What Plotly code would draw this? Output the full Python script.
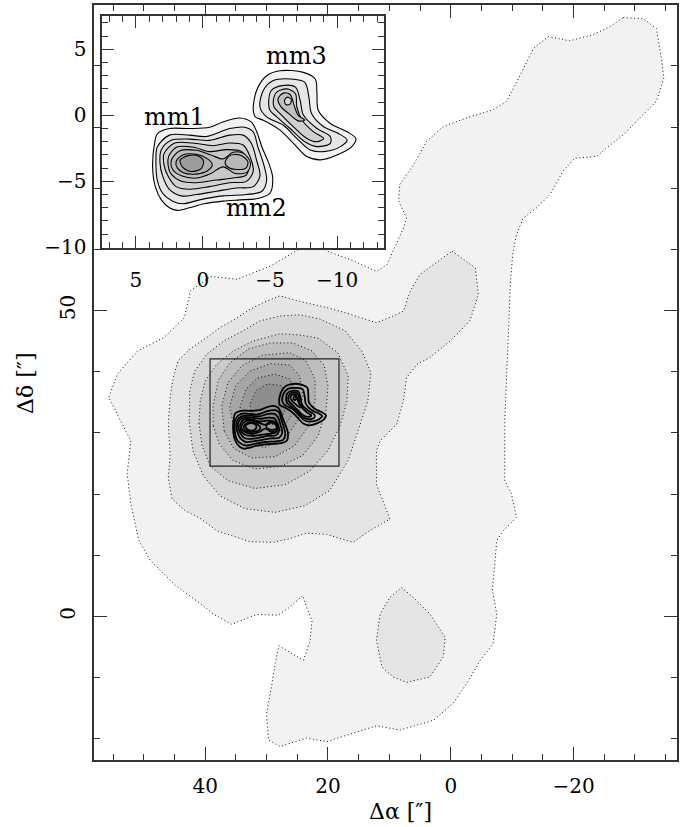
import plotly.graph_objects as go

# ---------------- DATA ----------------
# Main map (single-dish emission): contour outlines in (Δα, Δδ) arcsec, outermost level first
L1 = [(-28.1, 97.9), (-31.4, 97.7), (-33.5, 96.1), (-34.0, 93.4), (-34.4, 90.7), (-34.7, 88.0),
      (-33.5, 84.2), (-30.8, 81.5), (-28.1, 78.7), (-25.4, 76.6), (-23.8, 75.2), (-20.2, 74.9),
      (-18.3, 72.8), (-16.2, 69.0), (-14.0, 66.8), (-11.8, 65.1), (-10.7, 62.4), (-10.1, 59.2),
      (-9.7, 54.3), (-9.5, 48.8), (-9.2, 41.8), (-8.8, 32.0), (-8.8, 22.2), (-9.9, 20.0),
      (-10.7, 16.2), (-8.6, 14.0), (-7.5, 12.4), (-7.2, 8.6), (-6.8, 4.2), (-7.5, 0.4),
      (-6.9, -4.5), (-4.8, -7.2), (-2.6, -11.0), (-0.4, -14.2), (2.8, -17.0), (8.3, -18.6),
      (12.1, -17.9), (15.9, -19.1), (20.2, -20.5), (23.5, -19.9), (27.8, -21.3), (29.7, -20.2),
      (30.0, -15.9), (29.2, -11.5), (28.6, -7.7), (28.0, -4.8), (24.0, -7.2), (22.9, -3.9),
      (22.6, -0.7), (23.5, 1.5), (24.1, 3.4), (26.2, 1.5), (28.1, 0.2), (31.6, 0.3),
      (35.7, -1.3), (38.7, 0.4), (40.8, 2.1), (44.9, 5.1), (48.9, 9.1), (50.8, 12.4),
      (52.1, 18.4), (52.7, 23.3), (52.1, 28.7), (53.8, 32.0), (55.7, 35.8), (54.3, 39.6),
      (51.0, 43.4), (46.7, 45.6), (43.4, 48.8), (42.4, 53.2), (39.1, 55.6), (34.8, 55.1),
      (29.3, 57.3), (23.9, 60.5), (22.1, 61.3), (20.1, 59.7), (15.8, 58.1), (12.1, 56.4),
      (10.4, 57.5), (7.7, 63.5), (7.2, 65.1), (8.5, 67.9), (8.3, 70.6), (6.1, 73.8),
      (3.9, 77.7), (1.2, 80.1), (-2.6, 81.5), (-6.9, 82.8), (-9.1, 84.2), (-11.3, 88.5),
      (-13.5, 92.9), (-15.9, 94.8), (-19.4, 94.1), (-23.2, 95.1), (-25.9, 96.4)]

L2_MAIN = [(-0.2, 59.7), (-4.0, 57.0), (-4.5, 52.6), (-3.1, 48.3), (0.1, 45.0), (3.4, 42.3),
           (5.5, 41.2), (7.2, 39.0), (7.7, 35.2), (8.8, 31.4), (11.5, 28.7), (12.1, 27.1),
           (12.1, 21.6), (10.7, 17.8), (9.9, 15.9), (13.2, 14.0), (15.9, 12.1), (18.0, 12.7),
           (20.2, 13.4), (23.5, 13.6), (26.2, 12.7), (28.9, 12.1), (32.7, 12.2), (35.4, 13.1),
           (38.1, 14.0), (40.8, 16.0), (43.3, 17.3), (45.4, 19.2), (46.0, 22.7), (45.7, 26.5),
           (46.0, 31.4), (45.7, 35.8), (45.2, 39.0), (44.4, 41.8), (42.5, 43.7), (40.0, 45.4),
           (37.6, 47.2), (35.1, 48.6), (32.7, 50.2), (30.5, 51.3), (27.8, 52.4), (24.6, 51.5),
           (20.2, 50.5), (16.4, 49.4), (12.1, 48.0), (9.4, 49.1), (7.7, 49.9), (6.6, 53.2),
           (5.0, 55.9), (2.8, 57.5)]

L2_SOUTH = [(8.0, 4.7), (6.1, 3.1), (3.4, 0.4), (0.9, -3.4), (1.2, -6.6), (3.4, -9.9),
            (7.2, -10.8), (9.4, -9.9), (11.2, -8.3), (12.1, -3.9), (11.5, 0.4), (9.9, 3.1)]

L3 = [(42.6, 32.0), (42.5, 36.9), (41.7, 40.1), (39.7, 42.9), (37.0, 45.0), (33.8, 46.7),
      (31.1, 48.3), (27.8, 49.1), (24.6, 49.3), (21.3, 48.6), (17.2, 46.7), (14.5, 43.4),
      (13.0, 39.8), (13.5, 35.2), (15.1, 30.3), (16.7, 25.5), (19.7, 20.6), (23.7, 18.1),
      (28.6, 17.0), (33.5, 17.6), (37.6, 19.7), (40.3, 23.0), (42.0, 27.1)]

L4 = [(41.0, 31.5), (40.8, 35.2), (40.0, 38.5), (38.1, 41.2), (35.4, 43.4), (32.2, 45.0),
      (27.8, 46.2), (24.6, 46.0), (21.6, 45.5), (18.4, 43.1), (16.7, 39.3), (16.9, 35.2),
      (18.0, 31.2), (20.0, 27.1), (22.9, 23.8), (27.0, 21.5), (31.9, 20.9), (36.3, 22.2),
      (39.2, 24.6), (40.5, 27.9)]

L5 = [(38.7, 31.2), (38.7, 34.4), (37.9, 38.5), (36.0, 41.4), (33.0, 43.7), (29.4, 44.7),
      (25.7, 44.7), (22.6, 43.4), (20.6, 41.0), (20.0, 37.7), (20.3, 33.6), (21.6, 29.5),
      (24.1, 26.3), (27.8, 24.5), (31.9, 24.1), (35.5, 25.5), (37.7, 28.2)]

L6 = [(36.9, 30.3), (37.3, 34.4), (36.3, 38.2), (34.0, 41.0), (30.7, 42.7), (26.2, 43.1),
      (23.6, 41.8), (22.1, 38.8), (22.1, 35.2), (23.1, 31.2), (25.4, 27.9), (28.6, 26.1),
      (32.4, 25.9), (35.3, 27.4)]

L7 = [(35.3, 30.7), (36.0, 34.4), (35.0, 37.7), (32.7, 40.1), (29.4, 41.3), (26.2, 41.1),
      (24.6, 39.3), (24.1, 36.1), (24.9, 32.0), (27.0, 29.0), (30.3, 27.6), (33.5, 28.2)]

L8 = [(34.2, 32.3), (34.3, 34.4), (33.3, 37.2), (31.4, 39.0), (28.6, 39.6), (26.2, 38.8),
      (25.2, 36.4), (25.9, 32.8), (27.8, 30.3), (30.7, 29.2), (33.0, 30.3)]

L9 = [(32.5, 33.1), (32.7, 34.7), (31.7, 36.9), (29.8, 38.0), (27.5, 37.7), (26.5, 35.7),
      (27.2, 33.1), (29.1, 31.3), (31.4, 31.6)]

MAIN_CONTOURS = [L1, L2_MAIN, L2_SOUTH, L3, L4, L5, L6, L7, L8, L9]

# Interferometer map (inset): contour outlines in offsets (arcsec) from the inset centre
MM12_C1 = [(3.6, -2.1), (3.4, -1.4), (2.5, -1.0), (1.0, -1.0), (-0.5, -0.9), (-1.5, -0.5),
           (-2.75, -0.2), (-3.6, -0.5), (-4.0, -1.2), (-4.4, -2.4), (-4.9, -3.6), (-5.2, -4.7),
           (-5.0, -5.9), (-4.1, -6.3), (-2.75, -6.4), (-1.5, -6.5), (-0.1, -6.7), (1.0, -7.0),
           (1.9, -7.2), (2.5, -7.0), (3.1, -6.4), (3.55, -5.4), (3.75, -3.9)]
MM12_C2 = [(3.5, -3.4), (3.4, -2.4), (2.5, -1.5), (1.0, -1.5), (-0.25, -1.6), (-2.0, -1.0),
           (-3.1, -0.9), (-3.75, -1.25), (-4.1, -2.4), (-4.5, -3.6), (-4.75, -4.9), (-4.4, -5.75),
           (-3.25, -6.0), (-1.5, -6.1), (0.25, -6.4), (1.5, -6.7), (2.25, -6.5), (3.0, -5.9),
           (3.4, -4.9)]
MM12_C3 = [(3.2, -3.6), (3.1, -2.6), (2.4, -1.9), (1.0, -1.8), (-0.5, -1.9), (-2.0, -1.5),
           (-3.0, -1.5), (-3.6, -2.1), (-4.0, -3.4), (-4.25, -4.6), (-3.75, -5.4), (-2.5, -5.5),
           (-1.0, -5.75), (0.5, -6.0), (1.6, -6.1), (2.5, -5.6), (3.0, -4.6)]
MM12_C4 = [(2.9, -3.75), (2.9, -2.9), (2.1, -2.1), (0.75, -2.1), (-0.75, -2.3), (-2.0, -2.1),
           (-3.0, -2.25), (-3.5, -3.1), (-3.75, -4.25), (-3.25, -5.0), (-2.0, -5.1), (-0.5, -5.4),
           (1.0, -5.6), (2.0, -5.4), (2.6, -4.6)]
MM12_C5 = [(2.6, -3.75), (2.55, -3.1), (1.95, -2.4), (0.75, -2.4), (-0.5, -2.75), (-1.75, -2.6),
           (-2.9, -2.75), (-3.4, -3.6), (-3.25, -4.5), (-2.25, -4.75), (-1.0, -4.9), (0.5, -5.1),
           (1.6, -5.0), (2.4, -4.4)]
MM12_C6 = [(2.35, -3.4), (1.75, -2.7), (0.5, -2.65), (-0.6, -3.0), (-1.5, -3.3), (-2.25, -2.8),
           (-3.05, -2.9), (-3.55, -3.6), (-3.3, -4.3), (-2.4, -4.4), (-1.5, -3.9), (-0.6, -4.4),
           (0.5, -4.75), (1.55, -4.6), (2.25, -4.1)]
MM1_C7 = [(2.0, -3.5), (1.5, -3.0), (0.5, -2.95), (-0.35, -3.3), (-0.7, -3.75), (-0.35, -4.2),
          (0.5, -4.45), (1.45, -4.35), (1.9, -4.0)]
MM2_C7 = [(-1.65, -3.6), (-2.0, -3.05), (-2.75, -3.0), (-3.35, -3.5), (-3.2, -4.0), (-2.5, -4.1),
          (-1.9, -3.95)]
MM1_C8 = [(1.7, -3.4), (1.1, -3.05), (0.3, -3.1), (-0.05, -3.5), (0.15, -4.05), (0.9, -4.25),
          (1.5, -3.95)]

MM3_D1 = [(-3.75, 0.38), (-4.0, 1.88), (-4.75, 3.0), (-5.75, 3.38), (-7.5, 3.25), (-8.375, 2.75),
          (-8.5, 1.63), (-8.6, 0.38), (-9.5, -0.62), (-10.75, -1.25), (-11.4, -1.75), (-11.1, -2.37),
          (-10.0, -3.0), (-8.75, -3.37), (-7.75, -3.12), (-6.75, -2.12), (-5.75, -1.12), (-4.5, -0.37),
          (-3.9, -0.12)]
MM3_D2 = [(-4.25, 0.63), (-4.5, 1.88), (-5.25, 2.63), (-6.5, 2.75), (-7.6, 2.5), (-7.9, 1.38),
          (-8.1, 0.13), (-9.0, -0.87), (-10.1, -1.37), (-10.75, -1.87), (-10.25, -2.37), (-9.0, -2.75),
          (-8.0, -2.62), (-7.0, -1.75), (-6.0, -0.75), (-4.75, -0.12)]
MM3_D3 = [(-4.9, 0.88), (-5.1, 1.88), (-5.9, 2.25), (-6.9, 2.13), (-7.25, 1.13), (-7.5, 0.0),
          (-8.5, -1.0), (-9.5, -1.62), (-9.5, -2.12), (-8.5, -2.37), (-7.6, -2.0), (-6.5, -1.0),
          (-5.5, -0.12), (-5.0, 0.38)]
MM3_D4 = [(-5.25, 1.13), (-5.5, 1.75), (-6.25, 2.0), (-6.9, 1.63), (-7.0, 0.63), (-7.4, -0.37),
          (-8.25, -1.25), (-9.0, -1.75), (-8.5, -2.0), (-7.75, -1.75), (-6.75, -0.87), (-5.75, 0.13),
          (-5.3, 0.63)]
MM3_D5 = [(-5.6, 1.25), (-6.0, 1.68), (-6.5, 1.58), (-6.8, 0.75), (-7.1, 0.0), (-7.6, -0.37),
          (-7.1, -0.42), (-6.4, 0.13), (-5.8, 0.68)]
MM3_D6 = [(-6.08, 1.13), (-6.3, 1.38), (-6.58, 1.2), (-6.5, 0.85), (-6.2, 0.8)]

MM_CONTOURS = [MM12_C1, MM12_C2, MM12_C3, MM12_C4, MM12_C5, MM12_C6, MM1_C7, MM2_C7, MM1_C8,
               MM3_D1, MM3_D2, MM3_D3, MM3_D4, MM3_D5, MM3_D6]

SOURCE_NAMES = ["mm1", "mm2", "mm3"]
SOURCE_LABEL_X = [2.1, -4.0, -7.0]
SOURCE_LABEL_Y = [-0.1, -7.0, 4.5]

INSET_CENTER = (31.7, 34.6)          # inset (0,0) in main-map offsets
INSET_X_RANGE = [7.5, -13.5]
INSET_Y_RANGE = [-10.05, 7.5]
MAIN_X_RANGE = [58.1, -36.85]
MAIN_Y_RANGE = [-23.49, 99.95]

# ---------------- STYLE ----------------
MAIN_FILLS = ["#f2f2f2", "#e5e5e5", "#e5e5e5", "#d8d8d8", "#cbcbcb", "#bebebe",
              "#b2b2b2", "#a6a6a6", "#9a9a9a", "#8e8e8e"]
MM_FILLS = ["#f2f2f2", "#e6e6e6", "#dcdcdc", "#d2d2d2", "#c8c8c8", "#bebebe", "#b0b0b0",
            "#b8b8b8", "#9c9c9c",
            "#f2f2f2", "#e6e6e6", "#dcdcdc", "#d0d0d0", "#c0c0c0", "#d8d8d8"]
FONT = "DejaVu Serif"


def closed(poly, dx=0.0, dy=0.0):
    xs = [p[0] + dx for p in poly] + [poly[0][0] + dx]
    ys = [p[1] + dy for p in poly] + [poly[0][1] + dy]
    return xs, ys


fig = go.Figure()

# main single-dish map: filled, dotted contours
for poly, col in zip(MAIN_CONTOURS, MAIN_FILLS):
    xs, ys = closed(poly)
    fig.add_trace(go.Scatter(x=xs, y=ys, mode="lines", fill="toself", fillcolor=col,
                             line=dict(color="#111111", width=1, dash="1px,2.6px"),
                             xaxis="x", yaxis="y", hoverinfo="skip", showlegend=False))

# interferometer contours overplotted on the main map
for poly in MM_CONTOURS:
    xs, ys = closed(poly, INSET_CENTER[0], INSET_CENTER[1])
    fig.add_trace(go.Scatter(x=xs, y=ys, mode="lines",
                             line=dict(color="black", width=1.8, shape="spline", smoothing=0.9),
                             xaxis="x", yaxis="y", hoverinfo="skip", showlegend=False))

# inset: filled solid contours
for poly, col in zip(MM_CONTOURS, MM_FILLS):
    xs, ys = closed(poly)
    fig.add_trace(go.Scatter(x=xs, y=ys, mode="lines", fill="toself", fillcolor=col,
                             line=dict(color="black", width=1.1, shape="spline", smoothing=0.9),
                             xaxis="x2", yaxis="y2", hoverinfo="skip", showlegend=False))

# box showing inset footprint
fig.add_shape(type="rect", xref="x", yref="y",
              x0=INSET_CENTER[0] + INSET_X_RANGE[0], x1=INSET_CENTER[0] + INSET_X_RANGE[1],
              y0=INSET_CENTER[1] + INSET_Y_RANGE[0], y1=INSET_CENTER[1] + INSET_Y_RANGE[1],
              line=dict(color="#222222", width=1.2), layer="above")

for name, lx, ly in zip(SOURCE_NAMES, SOURCE_LABEL_X, SOURCE_LABEL_Y):
    fig.add_annotation(x=lx, y=ly, xref="x2", yref="y2", text=name, showarrow=False,
                       font=dict(family=FONT, size=24, color="black"))

W, H = 696, 827
ML, MR, MT, MB = 94, 19, 3, 67
pw, ph = W - ML - MR, H - MT - MB

fig.add_annotation(text="Δα [″]", xref="paper", yref="paper",
                   x=(400 - ML) / pw, y=(H - MB - 812) / ph, showarrow=False,
                   xanchor="center", yanchor="middle", font=dict(family=FONT, size=22, color="black"))
fig.add_annotation(text="Δδ [″]", xref="paper", yref="paper", textangle=-90,
                   x=(26 - ML) / pw, y=(H - MB - 382) / ph, showarrow=False,
                   xanchor="center", yanchor="middle", font=dict(family=FONT, size=22, color="black"))

axcommon = dict(showgrid=False, zeroline=False, showline=True, linecolor="#333333", linewidth=1.5,
                mirror="ticks", ticks="inside", tickcolor="#333333", tickwidth=1.2,
                tickfont=dict(family=FONT, size=20, color="black"))

fig.update_layout(
    width=W, height=H, margin=dict(l=ML, r=MR, t=MT, b=MB),
    paper_bgcolor="white", plot_bgcolor="white", showlegend=False,
    xaxis=dict(range=MAIN_X_RANGE, domain=[0, 1], anchor="y", tick0=0, dtick=20, ticklen=13,
               minor=dict(dtick=5, tick0=0, ticklen=6, ticks="inside", tickcolor="#333333", tickwidth=1),
               ticklabelstandoff=7, **axcommon),
    yaxis=dict(range=MAIN_Y_RANGE, domain=[0, 1], anchor="x", tick0=0, dtick=50, ticklen=13,
               tickangle=-90,
               minor=dict(dtick=10, tick0=0, ticklen=6, ticks="inside", tickcolor="#333333", tickwidth=1),
               ticklabelstandoff=9, **axcommon),
    xaxis2=dict(range=INSET_X_RANGE, domain=[(102.3 - ML) / pw, (384 - ML) / pw], anchor="y2",
                tick0=0, dtick=5, ticklen=12,
                minor=dict(dtick=1, tick0=0, ticklen=6, ticks="inside", tickcolor="#333333", tickwidth=1),
                ticklabelstandoff=13, **axcommon),
    yaxis2=dict(range=INSET_Y_RANGE, domain=[(H - MB - 246.7) / ph, (H - MB - 14.3) / ph], anchor="x2",
                tick0=0, dtick=5, ticklen=12,
                minor=dict(dtick=1, tick0=0, ticklen=6, ticks="inside", tickcolor="#333333", tickwidth=1),
                ticklabelstandoff=10, **axcommon),
)

fig.write_html("out.html")
